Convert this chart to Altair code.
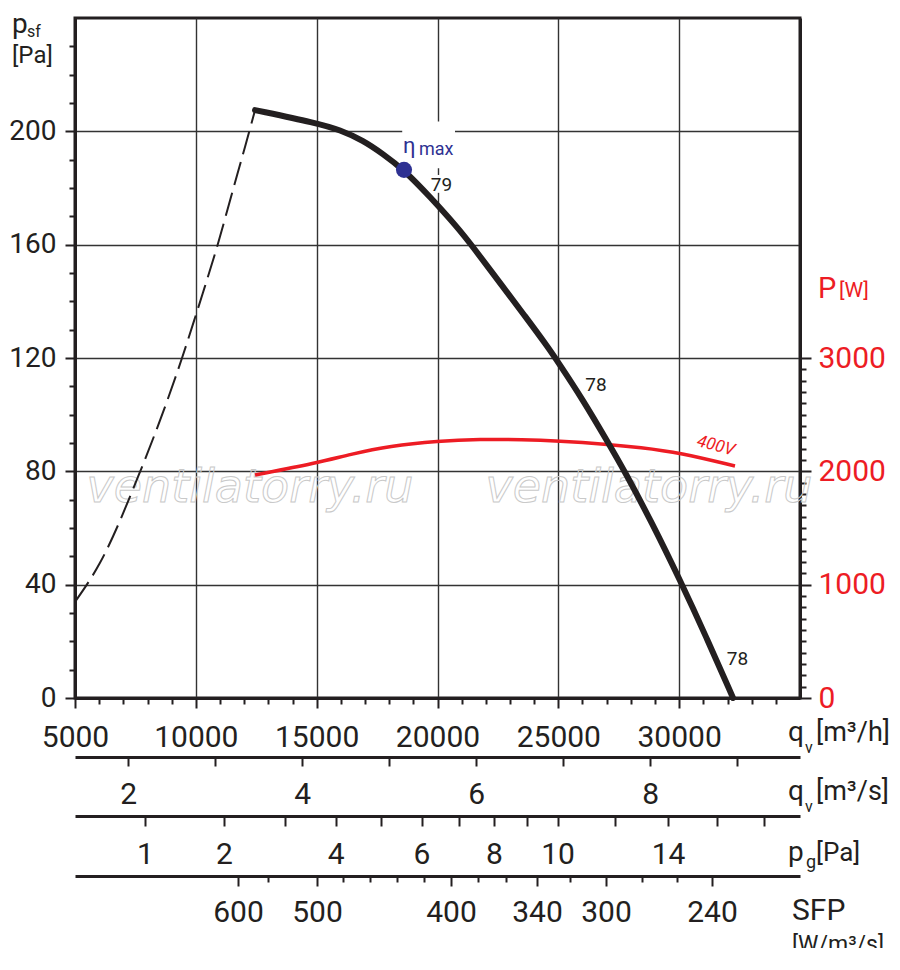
import altair as alt
import pandas as pd

# ---- values ----
# fan curve p_sf [Pa] against q_v [m3/h]
fan_q = [12450, 15014, 15966, 16917, 17745, 18614, 19690, 20807, 21469, 22710,
         23620, 24530, 24986, 26020, 27000, 27760, 28870, 30030, 31150, 32230]
fan_p = [207.5, 202.9, 200.5, 196.8, 192.0, 186.4, 176.9, 166.3, 159.2, 145.1,
         134.8, 124.3, 118.6, 105.2, 91.0, 79.8, 61.9, 41.7, 21.0, 0.0]

# unstable part (dashed)
stall_q = [5000, 6034, 7690, 9428, 9966, 10300, 10876, 11538, 12034, 12450]
stall_p = [33.9, 47.7, 79.8, 120.0, 134.2, 143.2, 159.2, 179.4, 194.5, 207.5]

# input power P [W] at 400V
power_q = [12450, 15014, 16380, 18034, 20020, 21760, 23540, 24986, 27000, 28380, 30030, 32310]
power_w = [1968, 2075, 2150, 2225, 2268, 2283, 2280, 2268, 2240, 2212, 2165, 2047]

# best efficiency point
bep_q = [18614]
bep_p = [186.4]

# efficiency labels along the curve
eff_text = ["79", "78", "78"]
eff_q = [20166, 26559, 32414]
eff_p = [181.2, 110.5, 13.9]

# white boxes behind the eta-max / 79 labels
mask_q = [18540, 19770]
mask_q2 = [20724, 20520]
mask_p = [187.0, 178.3]
mask_p2 = [203.5, 184.6]

# watermark
mark_text = ["ventilatorry.ru", "ventilatorry.ru"]
mark_q = [12241, 28752]
mark_p = [69.2, 69.2]

voltage_text = ["400V"]
voltage_q = [31517]
voltage_p = [89.0]

# axis ticks
qh_ticks = list(range(5000, 35000, 1000))
psf_ticks = list(range(0, 240, 10))
pw_ticks = list(range(0, 3001, 100))
qs_ticks = [2, 3, 4, 5, 6, 7, 8, 9]
qs_labels = [2, 4, 6, 8]
pg_ticks = [1, 2, 3, 4, 5, 6, 7, 8, 9, 10, 12, 14, 16, 18]
pg_labels = [1, 2, 4, 6, 8, 10, 14]
sfp_ticks = [600, 550, 500, 480, 460, 440, 420, 400, 380, 360, 340, 320, 300, 280, 260, 240]
sfp_at_q = [11745, 12986, 15014, 16090, 17207, 18324, 19441, 20559, 21676, 22835,
            24117, 25483, 26972, 28462, 29910, 31359]
sfp_labels = [600, 500, 400, 340, 300, 240]

FONT = "Roboto"
INK = "#231f20"
RED = "#ed1c24"
BLUE = "#2e3192"

Q_DOMAIN = [5000, 35000]
Q0 = 7895  # flow giving 1 Pa dynamic pressure


def cond(test, yes, no):
    return {"condition": {"test": test, "value": yes}, "value": no}


q_scale = alt.Scale(domain=Q_DOMAIN, nice=False, zero=False)
p_scale = alt.Scale(domain=[0, 240], nice=False)

x_axis = alt.Axis(
    values=qh_ticks, format="d", title=None, orient="bottom",
    labelExpr="datum.value % 5000 == 0 ? datum.label : ''",
    tickSize=cond("datum.value % 5000 == 0", 10, 6),
    grid=True, gridOpacity=cond("datum.value % 5000 == 0", 1, 0),
    labelPadding=14, labelFlush=False, labelOverlap=False, labelFontSize=30,
)
y_axis = alt.Axis(
    values=psf_ticks, title=None, orient="left",
    labelExpr="datum.value % 40 == 0 ? datum.label : ''",
    tickSize=cond("datum.value % 40 == 0", 10, 6),
    grid=True, gridOpacity=cond("datum.value % 40 == 0", 1, 0),
    labelPadding=9, labelFlush=False, labelOverlap=False, labelFontSize=28,
)

X = alt.X("q:Q", scale=q_scale, axis=x_axis)
Y = alt.Y("p:Q", scale=p_scale, axis=y_axis)

masks = alt.Chart(pd.DataFrame({"q": mask_q, "q2": mask_q2, "p": mask_p, "p2": mask_p2})).mark_rect(
    color="white"
).encode(x=X, x2="q2:Q", y=Y, y2="p2:Q")

stall = alt.Chart(pd.DataFrame({"q": stall_q, "p": stall_p})).mark_line(
    color=INK, strokeWidth=2, strokeDash=[24, 8], interpolate="monotone"
).encode(x=X, y=Y)

fan = alt.Chart(pd.DataFrame({"q": fan_q, "p": fan_p})).mark_line(
    color=INK, strokeWidth=6, interpolate="basis", strokeCap="round"
).encode(x=X, y=Y)

bep = alt.Chart(pd.DataFrame({"q": bep_q, "p": bep_p}))
bep_dot = bep.mark_circle(size=260, color=BLUE, opacity=1).encode(x=X, y=Y)
eta = bep.mark_text(text="η", font=FONT, fontSize=22, color=BLUE, align="left",
                    baseline="alphabetic", dx=-1, dy=-17).encode(x=X, y=Y)
eta_max = bep.mark_text(text="max", font=FONT, fontSize=18, color=BLUE, align="left",
                        baseline="alphabetic", dx=15, dy=-15).encode(x=X, y=Y)

eff = alt.Chart(pd.DataFrame({"q": eff_q, "p": eff_p, "t": eff_text})).mark_text(
    font=FONT, fontSize=19, color=INK, align="center", baseline="middle"
).encode(x=X, y=Y, text="t:N")

voltage = alt.Chart(pd.DataFrame({"q": voltage_q, "p": voltage_p, "t": voltage_text})).mark_text(
    font=FONT, fontSize=17, color=RED, fontStyle="italic", angle=15,
    align="center", baseline="middle"
).encode(x=X, y=Y, text="t:N")

main = alt.layer(masks, stall, fan, bep_dot, eta, eta_max, eff, voltage)

# watermark and power curve sit on their own (matching) scales
watermark = alt.Chart(pd.DataFrame({"q": mark_q, "p": mark_p, "t": mark_text})).mark_text(
    font="DejaVu Sans", fontSize=46, fontStyle="italic", fillOpacity=0,
    stroke="#c9c9c9", strokeWidth=1, align="center", baseline="alphabetic"
).encode(
    x=alt.X("q:Q", scale=q_scale, axis=None),
    y=alt.Y("p:Q", scale=p_scale, axis=None),
    text="t:N",
)

w_axis = alt.Axis(
    values=pw_ticks, format="d", title=None, orient="right",
    labelExpr="datum.value % 1000 == 0 ? datum.label : ''",
    tickSize=cond("datum.value % 1000 == 0", 11, 6),
    labelColor=RED, grid=False, labelPadding=7, labelFlush=False, labelOverlap=False,
    labelFontSize=30,
)
power = alt.Chart(pd.DataFrame({"q": power_q, "w": power_w})).mark_line(
    color=RED, strokeWidth=3.5, interpolate="basis"
).encode(
    x=alt.X("q:Q", scale=q_scale, axis=None),
    y=alt.Y("w:Q", scale=alt.Scale(domain=[0, 6000], nice=False), axis=w_axis),
)


def sub_axis(domain, scale, axis):
    return alt.Chart(pd.DataFrame({"v": domain})).mark_point(opacity=0).encode(
        x=alt.X("v:Q", scale=scale, axis=axis)
    )


qs_domain = [Q_DOMAIN[0] / 3600, Q_DOMAIN[1] / 3600]
qs_axis = sub_axis(
    qs_domain,
    alt.Scale(domain=qs_domain, nice=False, zero=False),
    alt.Axis(values=qs_ticks, title=None, orient="bottom", offset=59, tickSize=9,
             labelExpr=f"indexof({qs_labels}, datum.value) >= 0 ? datum.label : ''",
             labelPadding=13, labelFlush=False, labelOverlap=False, grid=False,
             labelFontSize=30),
)

pg_domain = [(Q_DOMAIN[0] / Q0) ** 2, (Q_DOMAIN[1] / Q0) ** 2]
pg_axis = sub_axis(
    pg_domain,
    alt.Scale(type="sqrt", domain=pg_domain, nice=False, zero=False),
    alt.Axis(values=pg_ticks, title=None, orient="bottom", offset=118, tickSize=10,
             labelExpr=f"indexof({pg_labels}, datum.value) >= 0 ? datum.label : ''",
             labelPadding=13, labelFlush=False, labelOverlap=False, grid=False,
             labelFontSize=30),
)

sfp_major = [q for q, s in zip(sfp_at_q, sfp_ticks) if s in sfp_labels]
sfp_expr = " : ".join(
    f"datum.value == {q} ? '{s}'" for q, s in zip(sfp_at_q, sfp_ticks) if s in sfp_labels
) + " : ''"
sfp_axis = sub_axis(
    Q_DOMAIN,
    q_scale,
    alt.Axis(values=sfp_at_q, title=None, orient="bottom", offset=178,
             tickSize=cond(f"indexof({sfp_major}, datum.value) >= 0", 10, 6),
             labelExpr=sfp_expr, labelPadding=11, labelFlush=False,
             labelOverlap=False, grid=False, labelFontSize=30),
)


def note(text, x, y, size, color=INK):
    return alt.Chart(pd.DataFrame({"t": [text]})).mark_text(
        align="left", baseline="alphabetic", font=FONT, fontSize=size, color=color
    ).encode(text="t:N", x=alt.value(x), y=alt.value(y))


notes = [
    note("p", -63, 15, 28), note("sf", -48, 19, 16), note("[Pa]", -63, 45, 24),
    note("P", 743, 280, 29, RED), note("[W]", 764, 279, 21, RED),
    note("q", 713, 723, 28), note("v", 730, 735, 16), note("[m³/h]", 741, 723, 27),
    note("q", 713, 782, 28), note("v", 730, 794, 16), note("[m³/s]", 741, 782, 27),
    note("p", 713, 843, 28), note("g", 731, 850, 18), note("[Pa]", 741, 843, 26),
    note("SFP", 717, 902, 30), note("[W/m³/s]", 717, 934, 23),
]

chart = alt.layer(
    watermark, power, main, qs_axis, pg_axis, sfp_axis, *notes
).resolve_scale(
    x="independent", y="independent"
).properties(
    width=725, height=680,
    padding={"left": 67, "top": 10, "right": 92, "bottom": 250},
    autosize=alt.AutoSizeParams(type="none"),
).configure_view(
    stroke=INK, strokeWidth=3
).configure_axis(
    domainColor=INK, domainWidth=3, tickColor=INK, tickWidth=2,
    labelFont=FONT, labelFontSize=28, labelColor=INK,
    gridColor="#333333", gridWidth=1.4,
)

chart.save("out.html", embed_options={"renderer": "svg", "actions": False})
